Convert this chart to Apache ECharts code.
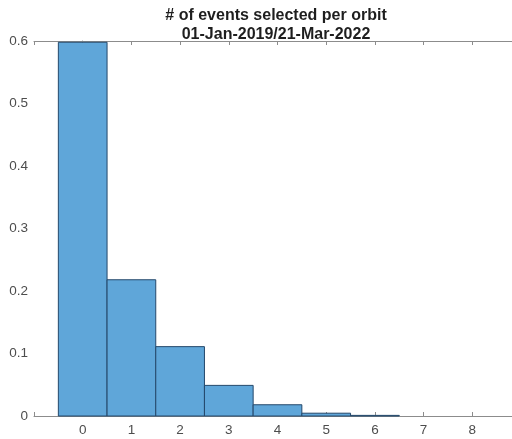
<!DOCTYPE html>
<html>
<head>
<meta charset="utf-8">
<script src="https://cdn.jsdelivr.net/npm/echarts@6/dist/echarts.min.js"></script>
<style>
  html, body { margin: 0; padding: 0; background: #fff; }
  #chart { width: 512px; height: 439px; }
</style>
</head>
<body>
<div id="chart"></div>
<script>
// Histogram: fraction of orbits with a given number of selected events
const eventCounts = [0, 1, 2, 3, 4, 5, 6, 7, 8];
const fractions = [0.598, 0.218, 0.111, 0.049, 0.018, 0.0045, 0.001, 0, 0];
const yTicks = [0, 0.1, 0.2, 0.3, 0.4, 0.5, 0.6];
const titleLines = ['# of events selected per orbit', '01-Jan-2019/21-Mar-2022'];

const chart = echarts.init(document.getElementById('chart'), null, { renderer: 'canvas' });

const axisGray = '#8c8c8c';
const labelGray = '#4d4d4d';
const font = 'Liberation Sans, Arial, Helvetica, sans-serif';

chart.setOption({
  animation: false,
  title: {
    text: titleLines.join('\n'),
    left: 271,
    textAlign: 'center',
    top: 1,
    textStyle: { fontFamily: font, fontSize: 16, fontWeight: 'bold', color: '#1e1e1e', lineHeight: 19 }
  },
  grid: { left: 34, top: 41, width: 487, height: 375, outerBoundsMode: 'none', containLabel: false },
  xAxis: [
    {
      type: 'value', min: -1, max: 9, interval: 1, position: 'bottom',
      axisLine: { show: true, lineStyle: { color: axisGray, width: 1 } },
      axisTick: { show: true, inside: true, length: 4, lineStyle: { color: axisGray } },
      axisLabel: {
        fontFamily: font, fontSize: 13.5, color: labelGray, margin: 7,
        formatter: v => (v >= 0 && v <= 8 ? String(v) : '')
      },
      splitLine: { show: false }
    },
    {
      type: 'value', min: -1, max: 9, interval: 1, position: 'top',
      axisLine: { show: true, lineStyle: { color: axisGray, width: 1 } },
      axisTick: { show: true, inside: true, length: 4, lineStyle: { color: axisGray } },
      axisLabel: { show: false },
      splitLine: { show: false }
    }
  ],
  yAxis: [
    {
      type: 'value', min: 0, max: 0.6, interval: 0.1, position: 'left',
      axisLine: { show: true, lineStyle: { color: axisGray, width: 1 } },
      axisTick: { show: true, inside: true, length: 4, lineStyle: { color: axisGray } },
      axisLabel: {
        fontFamily: font, fontSize: 13.5, color: labelGray, margin: 6,
        formatter: v => {
          const t = yTicks.find(k => Math.abs(k - v) < 1e-9);
          return t === undefined ? '' : (t === 0 ? '0' : t.toFixed(1));
        }
      },
      splitLine: { show: false }
    }
  ],
  series: [
    {
      type: 'custom',
      xAxisIndex: 0,
      yAxisIndex: 0,
      data: eventCounts.map((c, i) => [c, fractions[i]]),
      renderItem: (params, api) => {
        const x = api.value(0);
        const y = api.value(1);
        if (!(y > 0)) return null;
        const p0 = api.coord([x - 0.5, y]);
        const p1 = api.coord([x + 0.5, 0]);
        return {
          type: 'rect',
          shape: { x: p0[0], y: p0[1], width: p1[0] - p0[0], height: p1[1] - p0[1] },
          style: { fill: '#5fa6d9', stroke: '#24486b', lineWidth: 1 }
        };
      }
    }
  ]
});
</script>
</body>
</html>
